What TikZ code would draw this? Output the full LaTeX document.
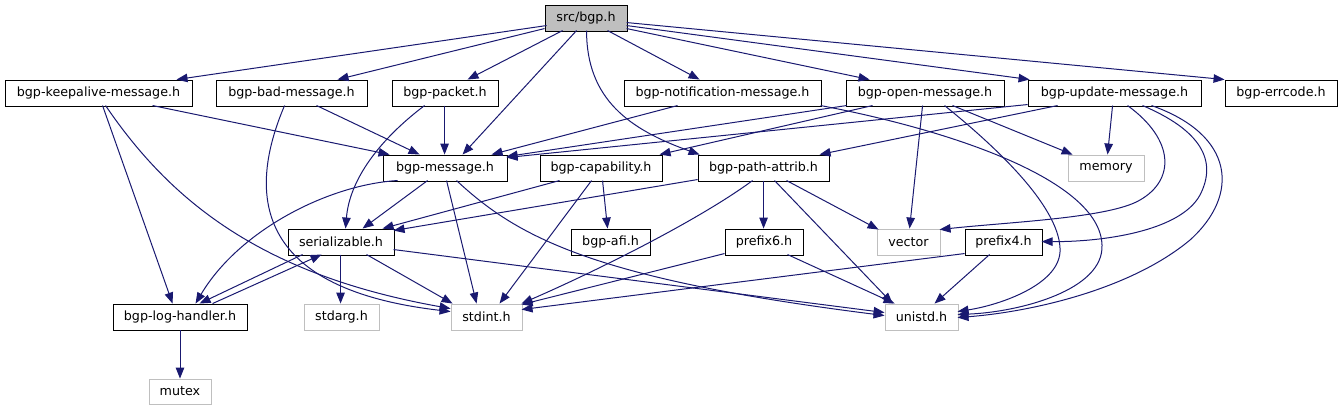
\documentclass[tikz,border=0pt]{standalone}
\usepackage{fontspec}
\setmainfont{DejaVu Sans}
\usetikzlibrary{arrows.meta}
\definecolor{edgec}{HTML}{191970}
\definecolor{grayb}{HTML}{BFBFBF}
\begin{document}
\begin{tikzpicture}[x=1pt,y=-1pt,
  box/.style={draw=black,line width=0.9pt,minimum height=26pt,inner sep=0pt,font=\fontsize{12.7}{15}\selectfont},
  sysbox/.style={box,draw=grayb},
  rootbox/.style={box,fill=grayb},
  lnk/.style={draw=edgec,line width=1pt,-{Triangle[length=11pt,width=8.5pt]}}]
\useasboundingbox (0,0) rectangle (1343,411);
% nodes
\node[rootbox,minimum width=82pt] (root) at (586,18) {src/bgp.h};
\node[box,minimum width=187pt] (keep) at (98.5,93) {bgp-keepalive-message.h};
\node[box,minimum width=151pt] (bad) at (291.5,93) {bgp-bad-message.h};
\node[box,minimum width=106pt] (packet) at (445,93) {bgp-packet.h};
\node[box,minimum width=197pt] (notif) at (722.5,93) {bgp-notification-message.h};
\node[box,minimum width=158pt] (open) at (925,93) {bgp-open-message.h};
\node[box,minimum width=173pt] (update) at (1114.5,93) {bgp-update-message.h};
\node[box,minimum width=112pt] (errcode) at (1281,93) {bgp-errcode.h};
\node[box,minimum width=124pt] (msg) at (445,168) {bgp-message.h};
\node[box,minimum width=122pt] (cap) at (601,168) {bgp-capability.h};
\node[box,minimum width=131pt] (pattr) at (763.5,168) {bgp-path-attrib.h};
\node[sysbox,minimum width=76pt] (memory) at (1106,168) {memory};
\node[box,minimum width=106pt] (serial) at (341,242) {serializable.h};
\node[box,minimum width=79pt] (afi) at (610.5,242) {bgp-afi.h};
\node[box,minimum width=78pt] (prefix6) at (764,242) {prefix6.h};
\node[sysbox,minimum width=63pt] (vector) at (908.5,242) {vector};
\node[box,minimum width=77pt] (prefix4) at (1003.5,242) {prefix4.h};
\node[box,minimum width=134pt] (log) at (180,317) {bgp-log-handler.h};
\node[sysbox,minimum width=75pt] (stdarg) at (341.5,317) {stdarg.h};
\node[sysbox,minimum width=71pt] (stdint) at (486.5,317) {stdint.h};
\node[sysbox,minimum width=73pt] (unistd) at (921.5,317) {unistd.h};
\node[sysbox,minimum width=62pt,minimum height=25pt] (mutex) at (180,391.5) {mutex};
% edges from root
\draw[lnk] ([xshift=2pt,yshift=-21pt]root.north west) -- ([xshift=172pt]keep.north west);
\draw[lnk] ([yshift=-24pt]root.north west) -- ([xshift=122pt]bad.north west);
\draw[lnk] ([xshift=18pt,yshift=-26pt]root.north west) -- ([xshift=76pt]packet.north west);
\draw[lnk] ([xshift=32pt,yshift=-26pt]root.north west) -- ([xshift=80pt]msg.north west);
\draw[lnk] ([xshift=42pt,yshift=-26pt]root.north west) .. controls +(0,69) and +(-70,-25) .. ([xshift=2pt]pattr.north west);
\draw[lnk] ([xshift=63pt,yshift=-26pt]root.north west) -- ([xshift=76pt]notif.north west);
\draw[lnk] ([xshift=82pt,yshift=-24pt]root.north west) -- ([xshift=24pt]open.north west);
\draw[lnk] ([xshift=82pt,yshift=-21pt]root.north west) -- ([xshift=2pt]update.north west);
\draw[lnk] ([xshift=82pt,yshift=-18pt]root.north west) -- (errcode.north west);
% keepalive
\draw[lnk] ([xshift=148pt,yshift=-26pt]keep.north west) -- ([xshift=7pt]msg.north west);
\draw[lnk] ([xshift=98pt,yshift=-26pt]keep.north west) -- ([xshift=60pt]log.north west);
\draw[lnk] ([xshift=101pt,yshift=-26pt]keep.north west) .. controls +(64,94) and +(-191,-34) .. ([yshift=-5pt]stdint.north west);
% bad
\draw[lnk] ([xshift=69pt,yshift=-26pt]bad.north west) .. controls +(-40,94) and +(-191,-22) .. ([yshift=-8pt]stdint.north west);
\draw[lnk] ([xshift=101pt,yshift=-26pt]bad.north west) -- ([xshift=37pt]msg.north west);
% packet
\draw[lnk] ([xshift=53pt,yshift=-26pt]packet.north west) -- ([xshift=62pt]msg.north west);
\draw[lnk] ([xshift=33pt,yshift=-26pt]packet.north west) .. controls +(-45,34) and +(4,-49) .. ([xshift=58pt]serial.north west);
% notification
\draw[lnk] ([xshift=54pt,yshift=-26pt]notif.north west) -- ([xshift=109pt]msg.north west);
\draw[lnk] ([xshift=197pt,yshift=-26pt]notif.north west) .. controls (950,130) and (1100,180) .. (1102,245) .. controls (1104,290) and (1020,312) .. ([xshift=73pt,yshift=-11pt]unistd.north west);
% open
\draw[lnk] ([xshift=1pt,yshift=-26pt]open.north west) -- ([xshift=124pt,yshift=-2pt]msg.north west);
\draw[lnk] ([xshift=27pt,yshift=-26pt]open.north west) -- ([xshift=120pt]cap.north west);
\draw[lnk] ([xshift=77pt,yshift=-26pt]open.north west) -- ([xshift=33pt]vector.north west);
\draw[lnk] ([xshift=107pt,yshift=-26pt]open.north west) -- ([xshift=5pt]memory.north west);
\draw[lnk] ([xshift=99pt,yshift=-26pt]open.north west) .. controls (1000,150) and (1062,210) .. (1060,252) .. controls (1058,285) and (1000,305) .. ([xshift=73pt,yshift=-8pt]unistd.north west);
% update
\draw[lnk] ([yshift=-25pt]update.north west) -- ([xshift=124pt,yshift=-3pt]msg.north west);
\draw[lnk] ([xshift=30pt,yshift=-26pt]update.north west) -- ([xshift=122pt]pattr.north west);
\draw[lnk] ([xshift=85pt,yshift=-26pt]update.north west) -- ([xshift=40pt]memory.north west);
\draw[lnk] ([xshift=100pt,yshift=-26pt]update.north west) .. controls (1175,140) and (1175,180) .. (1140,200) .. controls (1110,218) and (1010,222) .. ([xshift=63pt,yshift=-1pt]vector.north west);
\draw[lnk] ([xshift=115pt,yshift=-26pt]update.north west) .. controls (1200,130) and (1218,160) .. (1200,195) .. controls (1180,232) and (1100,242) .. ([xshift=77pt,yshift=-13pt]prefix4.north west);
\draw[lnk] ([xshift=124pt,yshift=-26pt]update.north west) .. controls (1235,135) and (1240,195) .. (1190,240) .. controls (1130,290) and (1030,312) .. ([xshift=73pt,yshift=-14pt]unistd.north west);
% message
\draw[lnk] ([xshift=45pt,yshift=-26pt]msg.north west) -- ([xshift=75pt]serial.north west);
\draw[lnk] ([xshift=15pt,yshift=-26pt]msg.north west) .. controls +(-68,4) and +(44,-74) .. ([xshift=83pt]log.north west);
\draw[lnk] ([xshift=64pt,yshift=-26pt]msg.north west) -- ([xshift=26pt]stdint.north west);
\draw[lnk] ([xshift=74pt,yshift=-26pt]msg.north west) .. controls +(63,59) and +(-285,-36) .. ([yshift=-12pt]unistd.north west);
% capability
\draw[lnk] ([xshift=20pt,yshift=-26pt]cap.north west) -- ([xshift=95pt]serial.north west);
\draw[lnk] ([xshift=52pt,yshift=-26pt]cap.north west) -- ([xshift=49pt]stdint.north west);
\draw[lnk] ([xshift=63pt,yshift=-26pt]cap.north west) -- ([xshift=37pt]afi.north west);
% path attrib
\draw[lnk] ([yshift=-25pt]pattr.north west) -- ([xshift=106pt,yshift=-2pt]serial.north west);
\draw[lnk] ([xshift=66pt,yshift=-26pt]pattr.north west) -- ([xshift=39pt]prefix6.north west);
\draw[lnk] ([xshift=89pt,yshift=-26pt]pattr.north west) -- ([xshift=2pt,yshift=-1pt]vector.north west);
\draw[lnk] ([xshift=55pt,yshift=-26pt]pattr.north west) .. controls +(-53,39) and +(78,-34) .. ([xshift=71pt]stdint.north west);
\draw[lnk] ([xshift=77pt,yshift=-26pt]pattr.north west) -- ([xshift=8pt]unistd.north west);
% serializable
\draw[lnk] ([xshift=15pt,yshift=-26pt]serial.north west) -- ([xshift=87pt]log.north west);
\draw[lnk] ([xshift=100pt]log.north west) -- ([xshift=34pt,yshift=-26pt]serial.north west);
\draw[lnk] ([xshift=53pt,yshift=-26pt]serial.north west) -- ([xshift=37pt]stdarg.north west);
\draw[lnk] ([xshift=79pt,yshift=-26pt]serial.north west) -- ([xshift=2pt]stdint.north west);
\draw[lnk] ([xshift=106pt,yshift=-21pt]serial.north west) -- ([yshift=-9pt]unistd.north west);
% prefix6 / prefix4
\draw[lnk] ([yshift=-25pt]prefix6.north west) -- ([xshift=71pt,yshift=-1pt]stdint.north west);
\draw[lnk] ([xshift=63pt,yshift=-26pt]prefix6.north west) -- ([xshift=10pt]unistd.north west);
\draw[lnk] ([yshift=-25pt]prefix4.north west) -- ([xshift=71pt,yshift=-6pt]stdint.north west);
\draw[lnk] ([xshift=25pt,yshift=-26pt]prefix4.north west) -- ([xshift=50pt]unistd.north west);
% log handler
\draw[lnk] (log.south) -- (mutex.north);
\end{tikzpicture}
\end{document}
